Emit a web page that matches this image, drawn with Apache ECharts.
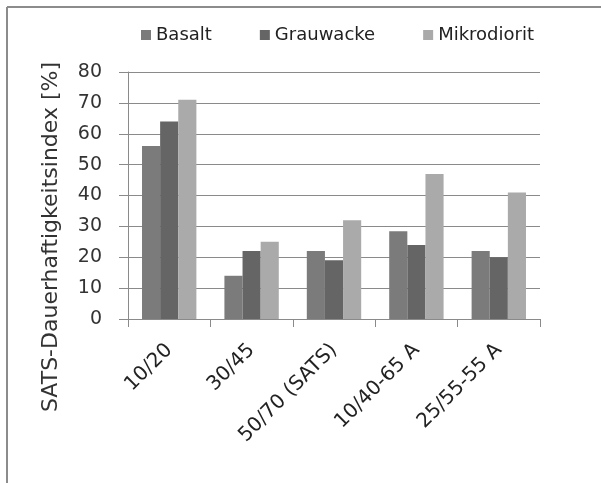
<!DOCTYPE html>
<html>
<head>
<meta charset="utf-8">
<script src="https://cdn.jsdelivr.net/npm/echarts@6/dist/echarts.min.js"></script>
<style>
  html, body { margin: 0; padding: 0; background: #fff; }
  #chart { width: 601px; height: 483px; }
</style>
</head>
<body>
<div id="chart"></div>
<script>
// Grading categories and SATS durability index per rock type
const categories = ['10/20', '30/45', '50/70 (SATS)', '10/40-65 A', '25/55-55 A'];
const basalt = [56, 14, 22, 28.4, 22];
const grauwacke = [64, 22, 19, 24, 20];
const mikrodiorit = [71, 25, 32, 47, 41];
const yTicks = { min: 0, max: 80, interval: 10 };
const yTitle = 'SATS-Dauerhaftigkeitsindex [%]';

const chart = echarts.init(document.getElementById('chart'));
const font = 'DejaVu Sans';
const frameStyle = { stroke: '#8c8c8c', lineWidth: 2 };

chart.setOption({
  animation: false,
  backgroundColor: '#ffffff',
  graphic: [
    // outer frame: top and left edges
    { type: 'line', shape: { x1: 7, y1: 7, x2: 601, y2: 7 }, style: frameStyle, silent: true },
    { type: 'line', shape: { x1: 7, y1: 7, x2: 7, y2: 483 }, style: frameStyle, silent: true },
    {
      type: 'text',
      x: 51,
      y: 237,
      rotation: Math.PI / 2,
      style: {
        text: yTitle,
        font: '22px "DejaVu Sans"',
        fill: '#333',
        align: 'center',
        verticalAlign: 'middle'
      },
      silent: true
    }
  ],
  legend: {
    left: 136,
    top: 21,
    itemWidth: 10,
    itemHeight: 10,
    itemGap: 48,
    icon: 'rect',
    textStyle: { fontFamily: font, fontSize: 18, color: '#222' },
    data: ['Basalt', 'Grauwacke', 'Mikrodiorit']
  },
  grid: { left: 128, right: 61, top: 72, bottom: 164, containLabel: false },
  xAxis: {
    type: 'category',
    data: categories,
    axisLine: { lineStyle: { color: '#8a8a8a', width: 1 } },
    axisTick: { show: true, length: 8, lineStyle: { color: '#8a8a8a' } },
    axisLabel: {
      rotate: 45,
      margin: 28,
      interval: 0,
      fontFamily: font,
      fontSize: 20,
      color: '#222'
    }
  },
  yAxis: {
    type: 'value',
    min: yTicks.min,
    max: yTicks.max,
    interval: yTicks.interval,
    axisLine: { show: true, lineStyle: { color: '#8a8a8a', width: 1 } },
    axisTick: { show: true, length: 9, lineStyle: { color: '#8a8a8a' } },
    axisLabel: { margin: 26, fontFamily: font, fontSize: 19, color: '#333' },
    splitLine: { lineStyle: { color: '#8a8a8a', width: 1 } }
  },
  series: [
    { name: 'Basalt', type: 'bar', data: basalt, barGap: '0%', barCategoryGap: '34%', itemStyle: { color: '#7b7b7b' } },
    { name: 'Grauwacke', type: 'bar', data: grauwacke, barGap: '0%', barCategoryGap: '34%', itemStyle: { color: '#656565' } },
    { name: 'Mikrodiorit', type: 'bar', data: mikrodiorit, barGap: '0%', barCategoryGap: '34%', itemStyle: { color: '#aaaaaa' } }
  ]
});
</script>
</body>
</html>
